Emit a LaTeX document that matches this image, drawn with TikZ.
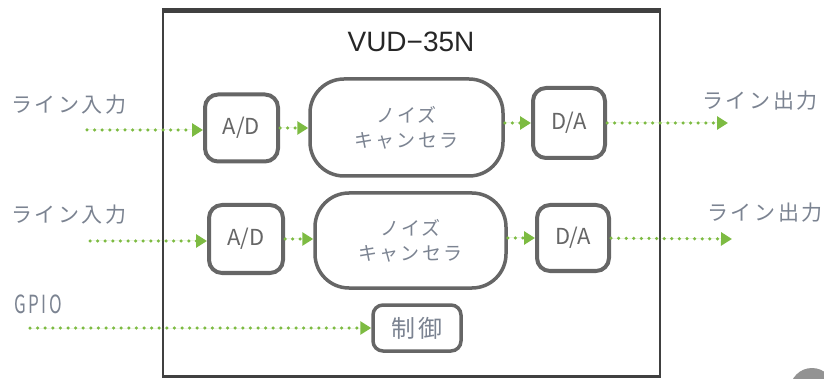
\documentclass[tikz,border=0pt]{standalone}
\usepackage{fontspec}
\setmainfont[LetterSpace=12]{Noto Sans CJK JP}
\newfontfamily\latinfont{Noto Sans CJK JP}
\newfontfamily\gpiofont[FakeStretch=0.68, LetterSpace=10]{Noto Sans CJK JP}
\newfontfamily\titlefont{Liberation Sans}
\usetikzlibrary{arrows.meta,positioning}

\definecolor{boxgray}{HTML}{666666}
\definecolor{framegray}{HTML}{404040}
\definecolor{textgray}{HTML}{7B8391}
\definecolor{sigreen}{HTML}{7DBB42}

\begin{document}
\begin{tikzpicture}[
    x=1pt, y=-1pt,
    font=\fontsize{21}{26}\selectfont,
    block/.style={draw=boxgray, line width=4pt, fill=white, rounded corners=13pt, text=boxgray, inner sep=0pt, font=\latinfont\fontsize{22}{26}\selectfont},
    canceller/.style={block, line width=3.5pt, rounded corners=34pt, align=center, font=\fontsize{19}{25}\selectfont, text=textgray},
    signal/.style={-{Triangle[length=11pt,width=13pt]}, draw=sigreen, fill=sigreen, line width=3.5pt, line cap=round, dash pattern=on 0pt off 7.6pt},
    port/.style={text=textgray, inner sep=0pt}
  ]

  \useasboundingbox (0,0) rectangle (824,379);
  \clip (0,0) rectangle (824,379);

  % Chip frame
  \node[draw=framegray, line width=2.5pt, minimum width=497pt, minimum height=365pt] (chip) at (411.5,194) {};
  \draw[framegray, line width=5pt] (chip.north west) -- (chip.north east);
  \node[font=\titlefont\fontsize{28}{30}\selectfont, text=black!85] (title) at (411,42) {VUD−35N};

  % Upper channel
  \node[block, minimum width=73pt, minimum height=67pt] (ad1) at (241.5,128) {A/D};
  \node[canceller, minimum width=193pt, minimum height=97pt] (nc1) at (406.5,127.5) {ノイズ\\キャンセラ};
  \node[block, minimum width=72pt, minimum height=70pt] (da1) at (569,123) {D/A};

  % Lower channel
  \node[block, minimum width=74pt, minimum height=68pt] (ad2) at (246,239) {A/D};
  \node[canceller, minimum width=191pt, minimum height=95pt] (nc2) at (410.5,240.5) {ノイズ\\キャンセラ};
  \node[block, minimum width=72pt, minimum height=66pt] (da2) at (573,238) {D/A};

  % Control block
  \node[block, line width=3.5pt, rounded corners=10pt, minimum width=88pt, minimum height=46pt, text=textgray, font=\fontsize{24}{26}\selectfont] (ctrl) at (417,328) {制御};

  % Port labels
  \node[port] (lin1) at (69,105) {ライン入力};
  \node[port] (lin2) at (69,215) {ライン入力};
  \node[port] (lout1) at (760,101) {ライン出力};
  \node[port] (lout2) at (765,213) {ライン出力};
  \node[port, font=\gpiofont\fontsize{25}{28}\selectfont] (lgpio) at (38,304) {GPIO};

  % Free ends of the signal lines
  \coordinate (in1) at (87,130);
  \coordinate (in2) at (90,241);
  \coordinate (out1) at (728,123);
  \coordinate (out2) at (732,239);
  \coordinate (gpio) at (30,328);

  % Signal flow
  \draw[signal] (in1) -- (in1 -| ad1.west);
  \draw[signal] (ad1) -- (ad1 -| nc1.west);
  \draw[signal] (nc1.east |- da1) -- (da1);
  \draw[signal] (da1) -- (out1);

  \draw[signal] (in2) -- (in2 -| ad2.west);
  \draw[signal] (ad2) -- (ad2 -| nc2.west);
  \draw[signal] (nc2.east |- da2) -- (da2);
  \draw[signal] (da2) -- (out2);

  \draw[signal] (gpio) -- (ctrl);

  % Corner mark (cut off)
  \fill[gray!85] (812,390) circle (22);

\end{tikzpicture}
\end{document}
